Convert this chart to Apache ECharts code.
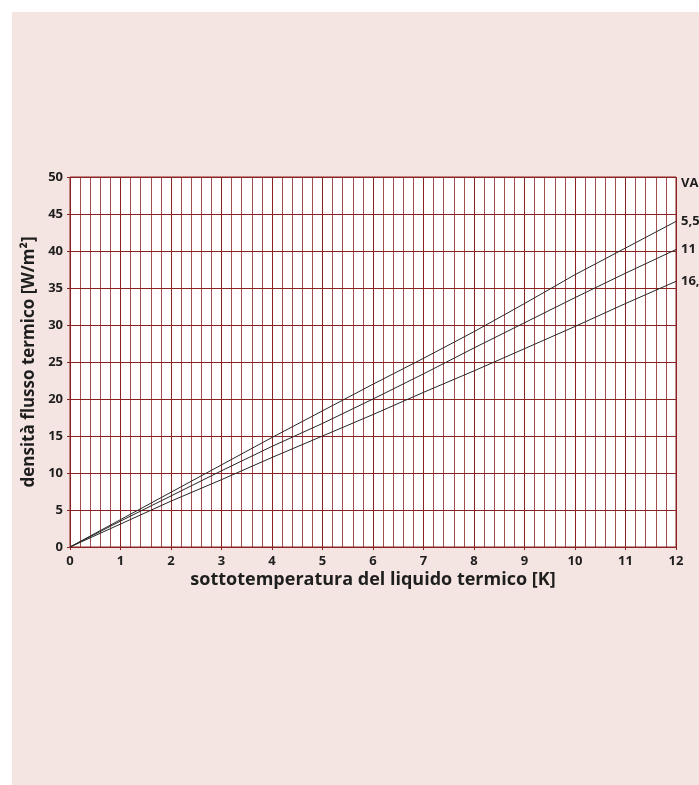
<!DOCTYPE html>
<html>
<head>
<meta charset="utf-8">
<script src="https://cdn.jsdelivr.net/npm/echarts@6/dist/echarts.min.js"></script>
<style>
  html, body { margin: 0; padding: 0; background: #ffffff; }
  #chart { width: 699px; height: 785px; }
</style>
</head>
<body>
<div id="chart"></div>
<script>
// Sottotemperatura del liquido termico [K]
const undercooling = [0, 1, 2, 3, 4, 5, 6, 7, 8, 9, 10, 11, 12];

// Densità flusso termico [W/m²] per portata VA
const seriesNames = ['5,5', '11', '16,5'];
const flux55  = [0, 3.7, 7.4, 11.1, 14.8, 18.4, 22.0, 25.5, 29.1, 32.9, 36.8, 40.4, 44.0];
const flux11  = [0, 3.5, 6.9, 10.3, 13.6, 16.7, 20.0, 23.4, 26.9, 30.3, 33.7, 37.0, 40.2];
const flux165 = [0, 3.1, 6.2, 9.1, 12.1, 15.0, 17.9, 20.9, 23.8, 26.8, 29.8, 32.9, 35.9];

// Header of the curve labels on the right edge
const legendHeader = 'VA';
const headerLevel = 49.1;

const gridColor = '#8a2222';
const textColor = '#1e1e1e';
const fontFamily = '"Open Sans", "Noto Sans", sans-serif';

const chart = echarts.init(document.getElementById('chart'));

function toPairs(values) {
  return undercooling.map((x, i) => [x, values[i]]);
}

const background = [{
  type: 'rect',
  z: -10,
  silent: true,
  shape: { x: 12, y: 12, width: 700, height: 800 },
  style: { fill: '#f5e5e2' }
}];

const option = {
  backgroundColor: '#ffffff',
  animation: false,
  graphic: background,
  grid: {
    left: 70, right: 23, top: 177, bottom: 238,
    show: true,
    backgroundColor: '#ffffff',
    borderColor: gridColor,
    borderWidth: 1
  },
  xAxis: {
    type: 'value',
    min: 0, max: 12, interval: 1,
    name: 'sottotemperatura del liquido termico [K]',
    nameLocation: 'middle',
    nameGap: 24,
    nameTextStyle: { fontFamily, fontWeight: 'bold', fontSize: 18, color: textColor },
    axisLine: { show: false },
    axisTick: { show: true, length: 3, lineStyle: { color: gridColor } },
    axisLabel: { fontFamily, fontWeight: 'bold', fontSize: 13, color: textColor, margin: 8 },
    splitLine: { show: true, lineStyle: { color: gridColor, width: 1 } },
    minorTick: { show: false, splitNumber: 5 },
    minorSplitLine: { show: true, lineStyle: { color: gridColor, width: 1, opacity: 0.8 } }
  },
  yAxis: {
    type: 'value',
    min: 0, max: 50, interval: 5,
    name: 'densità flusso termico [W/m²]',
    nameLocation: 'middle',
    nameGap: 31,
    nameTextStyle: { fontFamily, fontWeight: 'bold', fontSize: 17, color: textColor },
    axisLine: { show: false },
    axisTick: { show: true, length: 3, lineStyle: { color: gridColor } },
    axisLabel: { fontFamily, fontWeight: 'bold', fontSize: 13, color: textColor, margin: 7 },
    splitLine: { show: true, lineStyle: { color: gridColor, width: 1 } }
  },
  series: [flux55, flux11, flux165].map((values, i) => ({
    name: seriesNames[i],
    type: 'line',
    data: toPairs(values),
    showSymbol: false,
    symbol: 'none',
    lineStyle: { color: '#262626', width: 1 },
    endLabel: {
      show: true,
      formatter: '{a}',
      distance: 5,
      fontFamily,
      fontWeight: 'bold',
      fontSize: 13,
      color: textColor
    },
    z: 5
  }))
};

chart.setOption(option);

// Column header above the curve labels, placed through the axis scale
const headerPos = chart.convertToPixel({ gridIndex: 0 }, [12, headerLevel]);
chart.setOption({
  graphic: background.concat([{
    type: 'text',
    x: headerPos[0] + 5,
    y: headerPos[1],
    style: {
      text: legendHeader,
      font: 'bold 13px ' + fontFamily,
      fill: textColor,
      verticalAlign: 'middle'
    }
  }])
});
</script>
</body>
</html>
